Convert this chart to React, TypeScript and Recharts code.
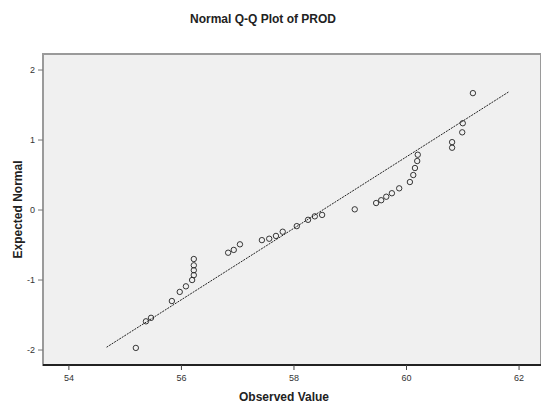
import React from "react";
import {
  ScatterChart,
  Scatter,
  XAxis,
  YAxis,
  ReferenceArea,
  ReferenceLine,
} from "recharts";

const observed = [
  55.19, 55.37, 55.46, 55.83, 55.97, 56.08, 56.19, 56.22, 56.22, 56.22, 56.22,
  56.83, 56.93, 57.04, 57.43, 57.56, 57.68, 57.8, 58.05, 58.25, 58.37, 58.5,
  59.08, 59.46, 59.55, 59.64, 59.74, 59.87, 60.06, 60.12, 60.15, 60.19, 60.2,
  60.81, 60.81, 60.99, 61.0, 61.18,
];
const expected = [
  -1.97, -1.59, -1.54, -1.3, -1.17, -1.09, -1.0, -0.93, -0.86, -0.79, -0.7,
  -0.61, -0.57, -0.49, -0.43, -0.41, -0.37, -0.31, -0.23, -0.14, -0.09, -0.07,
  0.01, 0.1, 0.14, 0.19, 0.24, 0.31, 0.4, 0.5, 0.6, 0.7, 0.79, 0.89, 0.97,
  1.11, 1.24, 1.67,
];

// reference line ends
const lineX = [54.67, 61.82];
const lineY = [-1.96, 1.69];

const xTicks = [54, 56, 58, 60, 62];
const yTicks = [-2, -1, 0, 1, 2];

const xDomain = [53.54, 62.39];
const yDomain = [-2.214, 2.229];

const points = observed.map((x, i) => ({ x, y: expected[i] }));

const font = '"Liberation Sans", Arial, sans-serif';

const OpenCircle = (props: any) => (
  <circle cx={props.cx} cy={props.cy} r={2.7} fill="none" stroke="#222" strokeWidth={0.9} />
);

export default function App() {
  return (
    <div style={{ position: "absolute", left: 0, top: 0, width: 541, height: 405, background: "#fff", fontFamily: font }}>
      <div
        style={{
          position: "absolute",
          left: 0,
          top: 12,
          width: 526,
          textAlign: "center",
          fontSize: 12,
          fontWeight: "bold",
          color: "#222",
        }}
      >
        Normal Q-Q Plot of PROD
      </div>
      <ScatterChart width={541} height={405} margin={{ top: 54, right: 0, bottom: 0, left: 0 }}>
        <ReferenceArea
          x1={xDomain[0]}
          x2={xDomain[1]}
          y1={yDomain[0]}
          y2={yDomain[1]}
          fill="#f0f0f0"
          fillOpacity={1}
          stroke="#9a9a9a"
          strokeWidth={2}
          ifOverflow="visible"
        />
        <XAxis
          type="number"
          dataKey="x"
          domain={xDomain}
          ticks={xTicks}
          allowDataOverflow
          height={40}
          tickSize={5}
          tickMargin={5}
          axisLine={{ stroke: "#222", strokeWidth: 2 }}
          tickLine={{ stroke: "#444" }}
          tick={{ fontSize: 9, fill: "#333", fontFamily: font }}
          label={{
            value: "Observed Value",
            position: "insideBottom",
            offset: 4,
            dx: -8,
            style: { fontSize: 12, fontWeight: "bold", fill: "#222", fontFamily: font },
          }}
        />
        <YAxis
          type="number"
          dataKey="y"
          domain={yDomain}
          ticks={yTicks}
          allowDataOverflow
          width={43}
          tickSize={5}
          tickMargin={3}
          axisLine={false}
          tickLine={{ stroke: "#777" }}
          tick={{ fontSize: 9, fill: "#333", fontFamily: font }}
          label={{
            value: "Expected Normal",
            angle: -90,
            position: "center",
            dx: -4,
            style: { fontSize: 12, fontWeight: "bold", fill: "#222", fontFamily: font },
          }}
        />
        <ReferenceLine
          segment={[
            { x: lineX[0], y: lineY[0] },
            { x: lineX[1], y: lineY[1] },
          ]}
          stroke="#222"
          strokeWidth={1}
          strokeDasharray="2 1"
          ifOverflow="visible"
        />
        <Scatter data={points} shape={OpenCircle} isAnimationActive={false} />
      </ScatterChart>
    </div>
  );
}
